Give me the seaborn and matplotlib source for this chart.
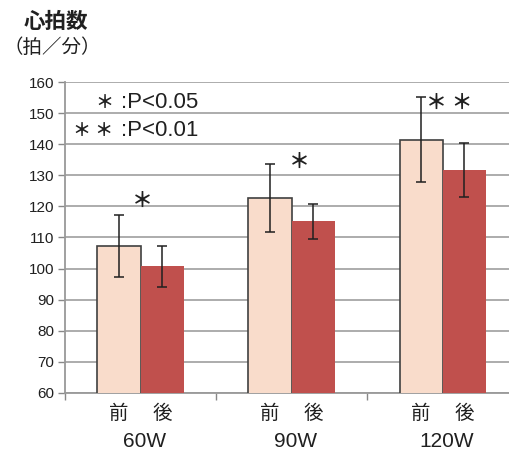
import matplotlib
matplotlib.use("Agg")
import matplotlib.pyplot as plt
import seaborn as sns
import pandas as pd
import numpy as np

groups = ["60W", "90W", "120W"]
phases = ["前", "後"]
mean_pre = [107.2, 122.7, 141.4]
mean_post = [100.7, 115.2, 131.7]
sd_pre = [10.0, 11.0, 13.7]
sd_post = [6.5, 5.6, 8.6]
sig_marks = ["＊", "＊", "＊ ＊"]
yticks = [60, 70, 80, 90, 100, 110, 120, 130, 140, 150, 160]

sns.set_theme(style="white")
plt.rcParams['font.family'] = ['Noto Sans CJK JP', 'DejaVu Sans']

df = pd.DataFrame({
    "group": groups * 2,
    "phase": [phases[0]] * 3 + [phases[1]] * 3,
    "value": mean_pre + mean_post,
    "sd": sd_pre + sd_post,
})

fig = plt.figure(figsize=(5.09, 4.54), dpi=100)
ax = fig.add_axes([65 / 509, 1 - 393 / 454, (509 - 65) / 509, (393 - 82) / 454])

colors = ["#F9DCCB", "#C0504D"]
sns.barplot(data=df, x="group", y="value", hue="phase", hue_order=phases,
            order=groups, palette=colors, saturation=1, width=0.57, errorbar=None,
            legend=False, ax=ax, zorder=3)

n = len(groups)
vals = mean_pre + mean_post
sds = sd_pre + sd_post
for i, p in enumerate(ax.patches[:2 * n]):
    if i < n:
        p.set_edgecolor("#404040")
        p.set_linewidth(1.2)
    else:
        p.set_edgecolor("none")
    cx = p.get_x() + p.get_width() / 2
    ax.errorbar(cx, vals[i], yerr=sds[i], fmt="none", ecolor="#202020",
                elinewidth=1.1, capsize=3.5, capthick=1.1, zorder=4)

ax.set_yticks(yticks)
ax.set_yticklabels([str(t) for t in yticks], fontsize=11, color="#202020",
                   family=['Liberation Sans', 'DejaVu Sans'])
ax.yaxis.grid(True, color="#A6A6A6", linewidth=1.3, zorder=0)
ax.set_axisbelow(True)
ax.tick_params(axis="y", which="major", direction="out", length=5,
               color="#888888", width=1, left=True, pad=3)

bar_w = 0.57 / 2
xt, xl = [], []
for g in range(n):
    xt += [g - bar_w / 2, g + bar_w / 2]
    xl += phases
ax.set_xticks(xt)
ax.set_xticklabels(xl, fontsize=14, color="#202020")
ax.tick_params(axis="x", which="major", length=0, pad=7)
ax.set_xticks([-0.5, 0.5, 1.5, 2.5], minor=True)
ax.tick_params(axis="x", which="minor", direction="out", length=5,
               color="#888888", width=1, bottom=True)
ax.set_xlabel("")
ax.set_ylabel("")

for s in ["top", "right"]:
    ax.spines[s].set_visible(False)
for s in ["left", "bottom"]:
    ax.spines[s].set_color("#999999")
    ax.spines[s].set_linewidth(1.3)

for g, name in enumerate(groups):
    ax.text(g + 0.03, -0.155, name, transform=ax.get_xaxis_transform(),
            ha="center", va="center", fontsize=15, color="#202020",
            family=['Liberation Sans', 'DejaVu Sans'])

sig_dx = [0.01, 0.05, 0.045]
sig_dy = [14.8, 11.9, 12.0]
for g in range(n):
    ax.text(g + sig_dx[g], mean_pre[g] + sig_dy[g], sig_marks[g], ha="center",
            va="center", fontsize=15, color="#202020", weight="bold")

fig.text(95 / 509, 1 - 103 / 454, "＊", ha="left", va="center", fontsize=13,
         color="#202020", weight="bold")
fig.text(121 / 509, 1 - 103 / 454, ":P<0.05", ha="left", va="center", fontsize=16,
         color="#202020", family=['Liberation Sans', 'DejaVu Sans'])
fig.text(73 / 509, 1 - 131 / 454, "＊ ＊", ha="left", va="center", fontsize=13,
         color="#202020", weight="bold")
fig.text(121 / 509, 1 - 131 / 454, ":P<0.01", ha="left", va="center", fontsize=16,
         color="#202020", family=['Liberation Sans', 'DejaVu Sans'])

fig.text(56 / 509, 1 - 22 / 454, "心拍数", ha="center", va="center", fontsize=15.5,
         color="#202020", weight="bold")
fig.text(52 / 509, 1 - 47 / 454, "（拍／分）", ha="center", va="center", fontsize=14,
         color="#202020")

ax.set_autoscale_on(False)
ax.set_ylim(60, 160)
ax.set_xlim(-0.5, 2.44)

fig.savefig("out.png", dpi=100)
